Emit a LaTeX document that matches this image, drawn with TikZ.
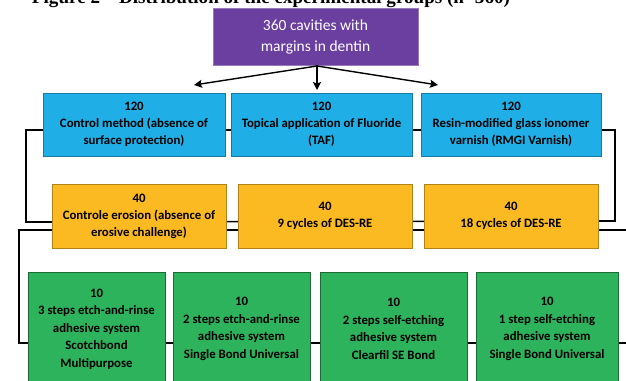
\documentclass[tikz,border=0pt]{standalone}
\usepackage{fontspec}
\setmainfont{Carlito}
\newfontfamily\capfont{Liberation Serif}
\usetikzlibrary{arrows.meta,backgrounds}
\definecolor{cpurple}{HTML}{6A3F9F}
\definecolor{cblue}{HTML}{1FAFE6}
\definecolor{corange}{HTML}{FBBA22}
\definecolor{cgreen}{HTML}{2DB35B}
\tikzset{
  boxbase/.style={line width=0.6pt, align=center, inner sep=0pt},
  purplebox/.style={boxbase, draw=cpurple!70!white, fill=cpurple, text=white,
    font=\fontsize{15.5}{21}\selectfont},
  bluebox/.style={boxbase, draw=cblue!70!black, fill=cblue, minimum height=63pt,
    font=\bfseries\fontsize{12.8}{17}\selectfont},
  orangebox/.style={boxbase, draw=corange!70!black, fill=corange, minimum height=64pt,
    font=\bfseries\fontsize{12.8}{17}\selectfont},
  greenbox/.style={boxbase, draw=cgreen!60!black, fill=cgreen, minimum height=114pt,
    font=\bfseries\fontsize{12.8}{17.5}\selectfont},
  link/.style={line width=1.5pt, black},
  splitarrow/.style={line width=1.4pt, black, -{Stealth[length=8pt,width=8pt,inset=1.5pt]}},
}
\begin{document}
\begin{tikzpicture}[x=1pt,y=-1pt]
\path[use as bounding box, clip] (0,0) rectangle (626,380);
% cut-off caption
\node[anchor=base, inner sep=0pt, font=\capfont\bfseries] (cap) at (271,3.5)
  {\resizebox{478pt}{!}{Figure 2 – Distribution of the experimental groups (n=360)}};
% top box
\node[purplebox, minimum width=205pt, minimum height=57pt] (top) at (315.5,36.5)
  {360 cavities with\\margins in dentin};
% blue row
\node[bluebox, minimum width=182pt] (b1) at (134,124.5) {120\\Control method (absence of\\surface protection)};
\node[bluebox, minimum width=181pt] (b2) at (321.5,124.5) {120\\Topical application of Fluoride\\(TAF)};
\node[bluebox, minimum width=180pt] (b3) at (511,124.5) {120\\Resin-modified glass ionomer\\varnish (RMGI Varnish)};
% orange row
\node[orangebox, minimum width=174pt] (o1) at (139,216) {40\\Controle erosion (absence of\\erosive challenge)};
\node[orangebox, minimum width=174pt] (o2) at (325,216) {40\\9 cycles of DES-RE};
\node[orangebox, minimum width=174pt] (o3) at (511,216) {40\\18 cycles of DES-RE};
% green row
\node[greenbox, minimum width=137pt] (g1) at (96.5,329) {10\\3 steps etch-and-rinse\\adhesive system\\Scotchbond\\Multipurpose};
\node[greenbox, minimum width=137pt] (g2) at (241.5,329) {10\\2 steps etch-and-rinse\\adhesive system\\Single Bond Universal};
\node[greenbox, minimum width=147pt] (g3) at (393.5,329) {10\\2 steps self-etching\\adhesive system\\Clearfil SE Bond};
\node[greenbox, minimum width=142pt] (g4) at (547,329) {10\\1 step self-etching\\adhesive system\\Single Bond Universal};
% connector points
\coordinate (split) at (317,66);
\coordinate (tipL) at (194,85);
\coordinate (tipC) at (317,90);
\coordinate (tipR) at (438,85);
\coordinate (bl) at (26,130);
\coordinate (br) at (615,130);
\coordinate (ol) at (26,222);
\coordinate (or) at (615,221);
\coordinate (ll) at (19,230);
\coordinate (lr) at (630,230);
\coordinate (gl) at (19,343);
\coordinate (gr) at (630,343);
\begin{scope}[on background layer]
  \fill[white] (0,0) rectangle (626,380);
  \draw[link] (o1.west |- ol) -- (ol) -- (bl) -- (br) -- (or) -- (o3.east |- or);
  \draw[link] (ol) -- (or);
  \draw[link] (lr) -- (ll) -- (gl) -- (gr);
\end{scope}
\draw[splitarrow] (split) -- (tipL);
\draw[splitarrow] (split) -- (tipC);
\draw[splitarrow] (split) -- (tipR);
\draw[line width=1.4pt] (top.south -| split) -- (split);
\end{tikzpicture}
\end{document}
